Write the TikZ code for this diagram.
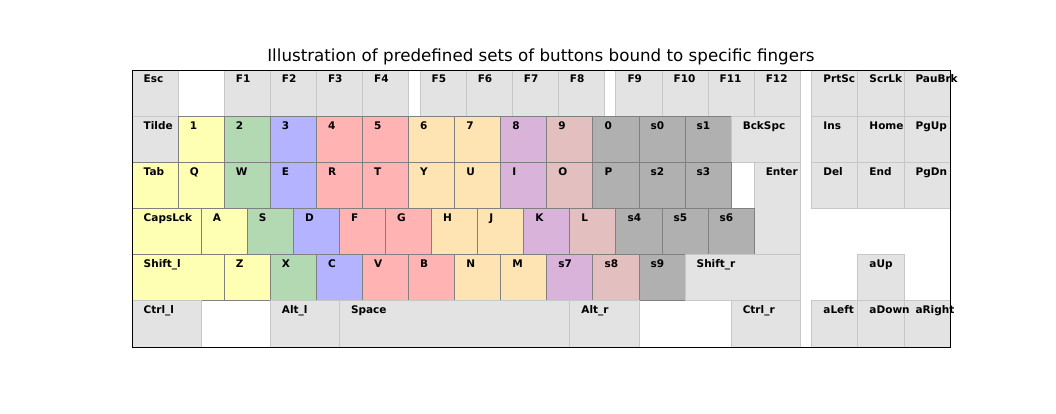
\documentclass[tikz,border=0pt]{standalone}
\usepackage{fontspec}
\setmainfont{DejaVu Sans}
\definecolor{kgray}{HTML}{E3E3E3}
\definecolor{kyel}{HTML}{FFFFB3}
\definecolor{kgrn}{HTML}{B3D9B3}
\definecolor{kblu}{HTML}{B3B3FF}
\definecolor{kred}{HTML}{FFB3B3}
\definecolor{kora}{HTML}{FFE4B3}
\definecolor{kpur}{HTML}{D9B3D9}
\definecolor{kbrn}{HTML}{E3BFBF}
\definecolor{kdark}{HTML}{B0B0B0}
\tikzset{
	key/.style={fill=#1,draw=black!50,line width=.7pt},
	fgray/.style={fill=kgray,draw=black!22,line width=.7pt},
	fyel/.style={key=kyel},
	fgrn/.style={key=kgrn},
	fblu/.style={key=kblu},
	fred/.style={key=kred},
	fora/.style={key=kora},
	fpur/.style={key=kpur},
	fbrn/.style={key=kbrn},
	fdark/.style={key=kdark},
	keylab/.style={anchor=base west,inner sep=0pt,font=\fontsize{10.5}{12}\bfseries\selectfont},
}
% x/y/rộng/cao/nhãn/kiểu
\def\keys{
	0/5/1/1/Esc/fgray, 2/5/1/1/F1/fgray, 3/5/1/1/F2/fgray, 4/5/1/1/F3/fgray,
	5/5/1/1/F4/fgray, 6.25/5/1/1/F5/fgray, 7.25/5/1/1/F6/fgray, 8.25/5/1/1/F7/fgray,
	9.25/5/1/1/F8/fgray, 10.5/5/1/1/F9/fgray, 11.5/5/1/1/F10/fgray, 12.5/5/1/1/F11/fgray,
	13.5/5/1/1/F12/fgray, 14.75/5/1/1/PrtSc/fgray, 15.75/5/1/1/ScrLk/fgray, 16.75/5/1/1/PauBrk/fgray,
	0/4/1/1/Tilde/fgray, 1/4/1/1/1/fyel, 2/4/1/1/2/fgrn, 3/4/1/1/3/fblu,
	4/4/1/1/4/fred, 5/4/1/1/5/fred, 6/4/1/1/6/fora, 7/4/1/1/7/fora,
	8/4/1/1/8/fpur, 9/4/1/1/9/fbrn, 10/4/1/1/0/fdark, 11/4/1/1/s0/fdark,
	12/4/1/1/s1/fdark, 13/4/1.5/1/BckSpc/fgray, 14.75/4/1/1/Ins/fgray, 15.75/4/1/1/Home/fgray,
	16.75/4/1/1/PgUp/fgray,
	0/3/1/1/Tab/fyel, 1/3/1/1/Q/fyel, 2/3/1/1/W/fgrn, 3/3/1/1/E/fblu,
	4/3/1/1/R/fred, 5/3/1/1/T/fred, 6/3/1/1/Y/fora, 7/3/1/1/U/fora,
	8/3/1/1/I/fpur, 9/3/1/1/O/fbrn, 10/3/1/1/P/fdark, 11/3/1/1/s2/fdark,
	12/3/1/1/s3/fdark, 13.5/2/1/2/Enter/fgray, 14.75/3/1/1/Del/fgray, 15.75/3/1/1/End/fgray,
	16.75/3/1/1/PgDn/fgray,
	0/2/1.5/1/CapsLck/fyel, 1.5/2/1/1/A/fyel, 2.5/2/1/1/S/fgrn, 3.5/2/1/1/D/fblu,
	4.5/2/1/1/F/fred, 5.5/2/1/1/G/fred, 6.5/2/1/1/H/fora, 7.5/2/1/1/J/fora,
	8.5/2/1/1/K/fpur, 9.5/2/1/1/L/fbrn, 10.5/2/1/1/s4/fdark, 11.5/2/1/1/s5/fdark,
	12.5/2/1/1/s6/fdark,
	0/1/2/1/Shift\_l/fyel, 2/1/1/1/Z/fyel, 3/1/1/1/X/fgrn, 4/1/1/1/C/fblu,
	5/1/1/1/V/fred, 6/1/1/1/B/fred, 7/1/1/1/N/fora, 8/1/1/1/M/fora,
	9/1/1/1/s7/fpur, 10/1/1/1/s8/fbrn, 11/1/1/1/s9/fdark, 12/1/2.5/1/Shift\_r/fgray,
	15.75/1/1/1/aUp/fgray,
	0/0/1.5/1/Ctrl\_l/fgray, 3/0/1.5/1/Alt\_l/fgray, 4.5/0/5/1/Space/fgray, 9.5/0/1.5/1/Alt\_r/fgray,
	13/0/1.5/1/Ctrl\_r/fgray, 14.75/0/1/1/aLeft/fgray, 15.75/0/1/1/aDown/fgray, 16.75/0/1/1/aRight/fgray}
\begin{document}
\begin{tikzpicture}[x=46.08pt,y=46.17pt]
	\useasboundingbox (-132pt,-66pt) rectangle (924pt,347pt);
	\def\d{13pt} % khoảng từ mép trên đến chân chữ
	\node[anchor=base,yshift=8pt,font=\fontsize{16.7}{19}\selectfont] (title) at (8.875,6)
	{Illustration of predefined sets of buttons bound to specific fingers};
	\foreach \x/\y/\w/\h/\lab/\s in \keys
	\draw[\s] (\x,\y) rectangle ++(\w,\h);
	\draw[line width=.8pt] (0,0) rectangle (17.75,6);
	% nhãn vẽ sau cùng
	\foreach \x/\y/\w/\h/\lab/\s [count=\i] in \keys
	\node[keylab,yshift=-\d] (k\i) at (\x+.25,\y+\h) {\lab};
\end{tikzpicture}
\end{document}
